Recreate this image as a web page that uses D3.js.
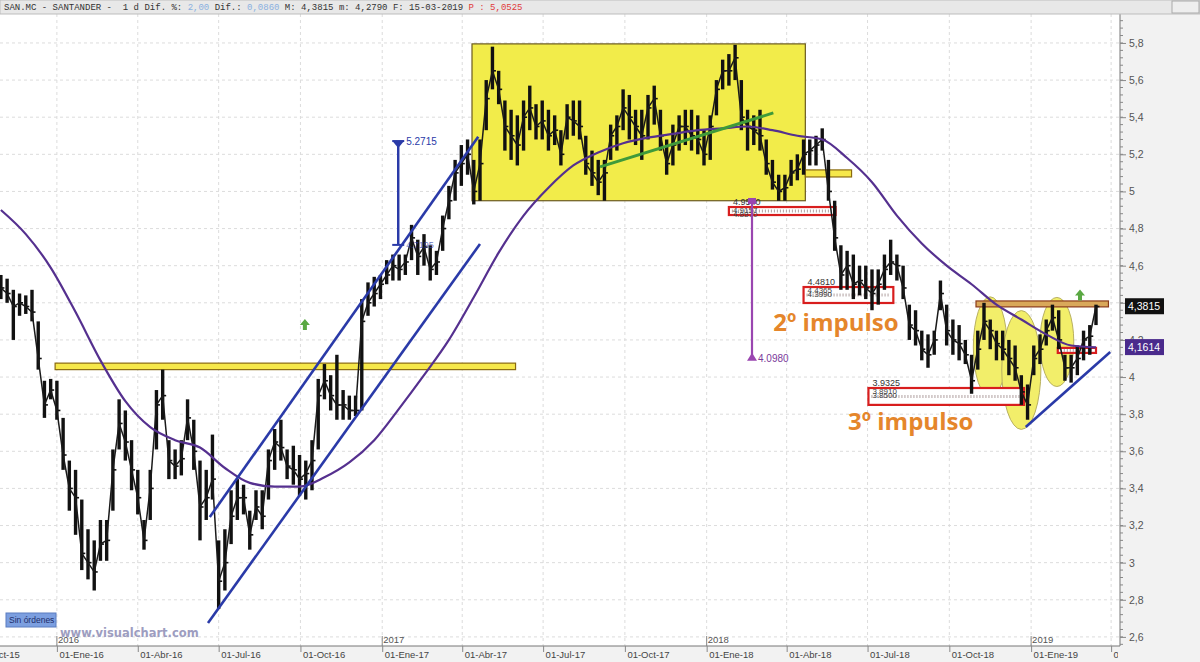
<!DOCTYPE html>
<html>
<head>
<meta charset="utf-8">
<script src="https://cdn.jsdelivr.net/npm/d3@7"></script>
<style>
  body { margin: 0; background: #fff; }
  svg { display: block; font-family: "Liberation Sans", Arial, sans-serif; }
</style>
</head>
<body>
<svg id="chart" width="1200" height="662"></svg>
<script>
// ---- datos semanales ----
const weekHigh = [
  4.55,4.53,4.47,4.45,4.44,4.47,4.30,3.98,3.99,3.98,
  3.78,3.55,3.50,3.34,3.18,3.12,3.23,3.23,3.61,3.88,
  3.82,3.66,3.50,3.23,3.50,3.93,4.04,3.66,3.61,3.66,
  3.88,3.77,3.55,3.50,3.69,3.12,3.18,3.39,3.45,3.42,
  3.28,3.39,3.39,3.61,3.72,3.77,3.61,3.63,3.58,3.55,
  3.66,3.99,4.07,4.01,4.12,3.93,3.90,3.90,4.42,4.51,
  4.54,4.55,4.63,4.66,4.66,4.66,4.82,4.74,4.77,4.71,
  4.68,4.87,5.03,5.17,5.25,5.28,5.17,5.28,5.60,5.78,
  5.65,5.49,5.44,5.41,5.49,5.57,5.47,5.49,5.44,5.41,
  5.33,5.47,5.49,5.49,5.30,5.22,5.17,5.17,5.36,5.41,
  5.55,5.52,5.44,5.44,5.52,5.57,5.44,5.28,5.36,5.41,
  5.44,5.44,5.41,5.33,5.41,5.60,5.71,5.74,5.79,5.60,
  5.44,5.41,5.44,5.28,5.17,5.09,5.09,5.17,5.20,5.28,
  5.28,5.30,5.34,5.17,4.95,4.71,4.68,4.66,4.60,4.60,
  4.58,4.58,4.66,4.74,4.66,4.60,4.39,4.36,4.25,4.23,
  4.25,4.52,4.39,4.31,4.28,4.20,4.12,4.25,4.40,4.31,
  4.25,4.25,4.20,4.17,4.01,3.96,4.17,4.23,4.31,4.39,
  4.36,4.12,4.12,4.17,4.25,4.28,4.39
];
const weekLow = [
  4.42,4.40,4.20,4.33,4.34,4.30,4.04,3.78,3.88,3.77,
  3.50,3.28,3.15,2.96,2.91,2.85,3.01,3.01,3.28,3.61,
  3.55,3.39,3.26,3.07,3.23,3.61,3.77,3.45,3.45,3.47,
  3.66,3.50,3.12,3.23,3.34,2.75,2.85,3.10,3.23,3.26,
  3.07,3.23,3.18,3.34,3.50,3.55,3.45,3.42,3.36,3.34,
  3.39,3.61,3.88,3.82,3.77,3.77,3.77,3.79,3.82,4.33,
  4.38,4.42,4.50,4.52,4.52,4.55,4.63,4.55,4.60,4.52,
  4.55,4.68,4.85,4.95,5.03,5.09,4.93,4.95,5.33,5.55,
  5.47,5.22,5.17,5.14,5.22,5.33,5.28,5.28,5.22,5.25,
  5.14,5.28,5.30,5.28,5.09,5.03,4.98,4.95,5.17,5.22,
  5.33,5.28,5.25,5.17,5.28,5.36,5.22,5.09,5.14,5.22,
  5.25,5.22,5.20,5.14,5.17,5.41,5.55,5.57,5.60,5.33,
  5.22,5.25,5.22,5.09,5.01,4.95,4.95,5.03,5.06,5.09,
  5.14,5.14,5.22,4.95,4.68,4.47,4.47,4.42,4.44,4.42,
  4.36,4.39,4.47,4.55,4.52,4.42,4.20,4.17,4.09,4.05,
  4.12,4.36,4.17,4.12,4.09,4.07,3.91,4.04,4.20,4.15,
  4.09,4.09,4.01,3.98,3.85,3.77,4.01,4.07,4.17,4.25,
  4.15,3.98,3.97,4.01,4.09,4.12,4.28
];
const weekClose = [
  4.48,4.45,4.38,4.40,4.38,4.35,4.10,3.85,3.93,3.82,
  3.58,3.40,3.35,3.05,3.00,2.95,3.10,3.12,3.50,3.75,
  3.65,3.50,3.35,3.12,3.40,3.85,3.90,3.55,3.52,3.56,
  3.78,3.60,3.30,3.35,3.45,2.90,3.00,3.25,3.35,3.35,
  3.15,3.30,3.25,3.55,3.65,3.62,3.52,3.50,3.45,3.48,
  3.55,3.90,3.98,3.90,3.85,3.85,3.82,3.82,4.30,4.40,
  4.45,4.50,4.55,4.60,4.58,4.62,4.75,4.65,4.70,4.58,
  4.62,4.80,4.95,5.10,5.15,5.20,5.00,5.15,5.50,5.65,
  5.55,5.35,5.30,5.25,5.40,5.45,5.35,5.38,5.30,5.33,
  5.20,5.40,5.38,5.35,5.15,5.10,5.05,5.10,5.30,5.35,
  5.45,5.40,5.35,5.30,5.45,5.50,5.30,5.15,5.25,5.35,
  5.35,5.30,5.28,5.20,5.35,5.55,5.65,5.65,5.72,5.40,
  5.35,5.33,5.30,5.15,5.05,5.00,5.02,5.10,5.12,5.20,
  5.22,5.25,5.28,5.00,4.75,4.55,4.60,4.50,4.52,4.48,
  4.45,4.50,4.58,4.62,4.60,4.48,4.28,4.25,4.15,4.12,
  4.20,4.45,4.25,4.20,4.18,4.12,3.98,4.15,4.30,4.25,
  4.18,4.15,4.10,4.05,3.92,3.85,4.10,4.15,4.25,4.32,
  4.20,4.05,4.05,4.10,4.20,4.22,4.38
];
// media movil, una lectura cada 4 semanas
const maValues = [
  4.90,4.77,4.59,4.35,4.09,3.87,3.73,3.66,3.62,3.51,
  3.43,3.41,3.41,3.46,3.54,3.66,3.83,4.01,4.20,4.43,
  4.67,4.87,5.02,5.14,5.21,5.26,5.29,5.31,5.33,5.34,
  5.35,5.33,5.30,5.28,5.18,5.05,4.87,4.72,4.60,4.50,
  4.39,4.31,4.23,4.17,4.16
];

const priceTicks = [2.6,2.8,3,3.2,3.4,3.6,3.8,4,4.2,4.4,4.6,4.8,5,5.2,5.4,5.6,5.8];
const quarterTicks = ["2015-10-01","2016-01-01","2016-04-01","2016-07-01","2016-10-01",
  "2017-01-01","2017-04-01","2017-07-01","2017-10-01","2018-01-01","2018-04-01",
  "2018-07-01","2018-10-01","2019-01-01","2019-04-01"];
const yearTicks = ["2016-01-01","2017-01-01","2018-01-01","2019-01-01"];
const meses = ["Ene","Feb","Mar","Abr","May","Jun","Jul","Ago","Sep","Oct","Nov","Dic"];

// zonas y figuras dibujadas sobre el grafico (fecha / precio)
const yellowBands = [
  {from:"2015-12-30", to:"2017-05-31", hi:4.075, lo:4.040},
  {from:"2018-04-22", to:"2018-06-13", hi:5.116, lo:5.078}
];
const bigBox = {from:"2017-04-12", to:"2018-04-22", hi:5.795, lo:4.950};
const redZones = [
  {from:"2018-01-26", to:"2018-05-26", hi:4.916, lo:4.873, top:"4.9540", inner:["4.9157","4.8870"]},
  {from:"2018-04-20", to:"2018-07-30", hi:4.485, lo:4.399, top:"4.4810", inner:["4.4365","4.3990"]},
  {from:"2018-07-02", to:"2018-12-24", hi:3.941, lo:3.850, top:"3.9325", inner:["3.8910","3.8500"]},
  {from:"2019-01-31", to:"2019-03-15", hi:4.157, lo:4.130, top:"", inner:[]}
];
const tanBand = {from:"2018-10-31", to:"2019-03-29", hi:4.410, lo:4.378};
const ellipses = [
  {date:"2018-11-16", price:4.162, days:19, half:0.27},
  {date:"2018-12-21", price:4.038, days:22, half:0.32},
  {date:"2019-01-30", price:4.189, days:19, half:0.24}
];
const blueLines = [
  {d1:"2016-06-21", p1:3.246, d2:"2017-04-19", p2:5.294},
  {d1:"2016-06-19", p1:2.675, d2:"2017-04-21", p2:4.717},
  {d1:"2018-12-26", p1:3.731, d2:"2019-03-31", p2:4.135}
];
const greenLine = {d1:"2017-09-03", p1:5.132, d2:"2018-03-17", p2:5.423};
const greenArrows = [{date:"2016-10-06", price:4.28}, {date:"2019-02-25", price:4.44}];
const blueMeasure = {date:"2017-01-19", top:5.2715, bottom:4.712, topLabel:"5.2715", bottomLabel:"4.7195"};
const purpleMeasure = {date:"2018-02-21", top:4.954, bottom:4.098, label:"4.0980"};
const impulsos = [
  {date:"2018-03-17", price:4.248, text:"2º impulso"},
  {date:"2018-06-09", price:3.715, text:"3º impulso"}
];
const lastPrice = {value:4.3815, text:"4,3815"};
const lastMA = {value:4.1614, text:"4,1614"};

// ---- escalas ----
const parse = d3.utcParse("%Y-%m-%d");
const weekDates = d3.utcFriday.range(parse("2015-10-30"), parse("2019-03-16"));
const maDates = weekDates.filter((d, i) => i % 4 === 0);

const plotRight = 1120, plotTop = 14, plotBottom = 646;
const x = d3.scaleUtc().domain([parse("2015-10-29"), parse("2019-04-11")]).range([0, plotRight]);
const y = d3.scaleLinear().domain([2.551, 5.956]).range([plotBottom, plotTop]);

const svg = d3.select("#chart");

// fondos
svg.append("rect").attr("x", 0).attr("y", 0).attr("width", 1200).attr("height", 662).attr("fill", "#f2f2f2");
svg.append("rect").attr("x", 0).attr("y", plotTop).attr("width", plotRight).attr("height", plotBottom - plotTop).attr("fill", "#fff");

svg.append("defs").append("clipPath").attr("id", "plotclip")
  .append("rect").attr("x", 0).attr("y", plotTop).attr("width", plotRight).attr("height", plotBottom - plotTop);
svg.select("defs").append("clipPath").attr("id", "xclip")
  .append("rect").attr("x", 0).attr("y", plotBottom).attr("width", plotRight - 2).attr("height", 20);

const g = svg.append("g").attr("clip-path", "url(#plotclip)");

// rejilla punteada
g.selectAll(".hgrid").data(priceTicks).enter().append("line")
  .attr("x1", 0).attr("x2", plotRight)
  .attr("y1", d => y(d)).attr("y2", d => y(d))
  .attr("stroke", "#dcdcdc").attr("stroke-dasharray", "3,3");
g.selectAll(".vgrid").data(quarterTicks).enter().append("line")
  .attr("x1", d => x(parse(d))).attr("x2", d => x(parse(d)))
  .attr("y1", plotTop).attr("y2", plotBottom)
  .attr("stroke", "#dcdcdc").attr("stroke-dasharray", "3,3");

// caja amarilla grande
g.append("rect")
  .attr("x", x(parse(bigBox.from))).attr("y", y(bigBox.hi))
  .attr("width", x(parse(bigBox.to)) - x(parse(bigBox.from)))
  .attr("height", y(bigBox.lo) - y(bigBox.hi))
  .attr("fill", "#f2ec4a").attr("stroke", "#6b5a20").attr("stroke-width", 1.2);

// bandas amarillas
g.selectAll(".yband").data(yellowBands).enter().append("rect")
  .attr("x", d => x(parse(d.from))).attr("y", d => y(d.hi))
  .attr("width", d => x(parse(d.to)) - x(parse(d.from)))
  .attr("height", d => y(d.lo) - y(d.hi))
  .attr("fill", "#f6e84a").attr("stroke", "#8a6a10").attr("stroke-width", 1.2);

// elipses
g.selectAll(".ell").data(ellipses).enter().append("ellipse")
  .attr("cx", d => x(parse(d.date))).attr("cy", d => y(d.price))
  .attr("rx", d => x(d3.utcDay.offset(parse(d.date), d.days)) - x(parse(d.date)))
  .attr("ry", d => y(d.price - d.half) - y(d.price))
  .attr("fill", "#f2ee6a").attr("stroke", "#b8b060").attr("stroke-width", 1);

// zonas rojas
const zones = g.selectAll(".zone").data(redZones).enter().append("g");
zones.append("rect")
  .attr("x", d => x(parse(d.from))).attr("y", d => y(d.hi))
  .attr("width", d => x(parse(d.to)) - x(parse(d.from)))
  .attr("height", d => y(d.lo) - y(d.hi))
  .attr("fill", "#fff").attr("stroke", "#d81e1e").attr("stroke-width", 2.2);
zones.append("line")
  .attr("x1", d => x(parse(d.from)) + 3).attr("x2", d => x(parse(d.to)) - 3)
  .attr("y1", d => y((d.hi + d.lo) / 2)).attr("y2", d => y((d.hi + d.lo) / 2))
  .attr("stroke", "#b0a0a0").attr("stroke-width", 3).attr("stroke-dasharray", "1,2");
zones.append("text")
  .attr("x", d => x(parse(d.from)) + 4).attr("y", d => y(d.hi) - 2)
  .attr("font-size", 9).attr("fill", "#333").text(d => d.top);
zones.each(function(d) {
  d3.select(this).selectAll("text.inner").data(d.inner).enter().append("text")
    .attr("class", "inner")
    .attr("x", x(parse(d.from)) + 4)
    .attr("y", (t, i) => y(d.hi) + 6 + i * 4)
    .attr("font-size", 8).attr("fill", "#444").text(t => t);
});

// banda ocre
g.append("rect")
  .attr("x", x(parse(tanBand.from))).attr("y", y(tanBand.hi))
  .attr("width", x(parse(tanBand.to)) - x(parse(tanBand.from)))
  .attr("height", y(tanBand.lo) - y(tanBand.hi))
  .attr("fill", "#d9a85a").attr("stroke", "#8a3a1a").attr("stroke-width", 1.2);

// precio semanal: barras maximo-minimo y linea de cierre
g.selectAll(".bar").data(weekDates).enter().append("line")
  .attr("x1", d => x(d)).attr("x2", d => x(d))
  .attr("y1", (d, i) => y(weekHigh[i])).attr("y2", (d, i) => y(weekLow[i]))
  .attr("stroke", "#111").attr("stroke-width", 3.4);
g.selectAll(".tick-close").data(weekDates).enter().append("line")
  .attr("x1", d => x(d)).attr("x2", d => x(d) + 3.5)
  .attr("y1", (d, i) => y(weekClose[i])).attr("y2", (d, i) => y(weekClose[i]))
  .attr("stroke", "#111").attr("stroke-width", 1.6);
g.append("path")
  .datum(weekDates)
  .attr("fill", "none").attr("stroke", "#1a1a1a").attr("stroke-width", 1.5)
  .attr("d", d3.line().x(d => x(d)).y((d, i) => y(weekClose[i])));

// media movil
g.append("path")
  .datum(maDates)
  .attr("fill", "none").attr("stroke", "#55308f").attr("stroke-width", 2.2)
  .attr("d", d3.line().curve(d3.curveMonotoneX).x(d => x(d)).y((d, i) => y(maValues[i])));

// lineas azules (canal y soporte)
g.selectAll(".bline").data(blueLines).enter().append("line")
  .attr("x1", d => x(parse(d.d1))).attr("y1", d => y(d.p1))
  .attr("x2", d => x(parse(d.d2))).attr("y2", d => y(d.p2))
  .attr("stroke", "#2a3aa8").attr("stroke-width", 2.6);

// linea verde
g.append("line")
  .attr("x1", x(parse(greenLine.d1))).attr("y1", y(greenLine.p1))
  .attr("x2", x(parse(greenLine.d2))).attr("y2", y(greenLine.p2))
  .attr("stroke", "#3f9a3a").attr("stroke-width", 3);

// medida azul
const bx = x(parse(blueMeasure.date));
g.append("line").attr("x1", bx).attr("x2", bx)
  .attr("y1", y(blueMeasure.top)).attr("y2", y(blueMeasure.bottom))
  .attr("stroke", "#2a3aa8").attr("stroke-width", 2.5);
g.append("line").attr("x1", bx - 6).attr("x2", bx + 6)
  .attr("y1", y(blueMeasure.top)).attr("y2", y(blueMeasure.top))
  .attr("stroke", "#2a3aa8").attr("stroke-width", 2);
g.append("path")
  .attr("d", `M${bx - 5},${y(blueMeasure.top) + 1}L${bx + 5},${y(blueMeasure.top) + 1}L${bx},${y(blueMeasure.top) + 7}Z`)
  .attr("fill", "#2a3aa8");
g.append("line").attr("x1", bx - 6).attr("x2", bx + 6)
  .attr("y1", y(blueMeasure.bottom)).attr("y2", y(blueMeasure.bottom))
  .attr("stroke", "#2a3aa8").attr("stroke-width", 2);
g.append("text").attr("x", bx + 8).attr("y", y(blueMeasure.top) + 4)
  .attr("font-size", 10).attr("fill", "#2a3aa8").text(blueMeasure.topLabel);
g.append("text").attr("x", bx + 8).attr("y", y(blueMeasure.bottom) + 3)
  .attr("font-size", 9).attr("fill", "#2a3aa8").attr("opacity", 0.7).text(blueMeasure.bottomLabel);

// medida morada
const px = x(parse(purpleMeasure.date));
g.append("line").attr("x1", px).attr("x2", px)
  .attr("y1", y(purpleMeasure.top)).attr("y2", y(purpleMeasure.bottom))
  .attr("stroke", "#9a46b0").attr("stroke-width", 2.2);
g.append("rect").attr("x", px - 4).attr("y", y(purpleMeasure.top) - 2).attr("width", 8).attr("height", 6)
  .attr("fill", "#9a46b0");
g.append("path")
  .attr("d", `M${px - 5},${y(purpleMeasure.bottom) + 2}L${px + 5},${y(purpleMeasure.bottom) + 2}L${px},${y(purpleMeasure.bottom) - 6}Z`)
  .attr("fill", "#9a46b0");
g.append("text").attr("x", px + 6).attr("y", y(purpleMeasure.bottom) + 3)
  .attr("font-size", 10).attr("fill", "#7a3a9a").text(purpleMeasure.label);

// flechas verdes
g.selectAll(".arrow").data(greenArrows).enter().append("path")
  .attr("transform", d => `translate(${x(parse(d.date))},${y(d.price)})`)
  .attr("d", "M0,-6L5,0L2,0L2,5L-2,5L-2,0L-5,0Z")
  .attr("fill", "#5aa843");

// textos de impulsos
g.selectAll(".imp").data(impulsos).enter().append("text")
  .attr("x", d => x(parse(d.date))).attr("y", d => y(d.price))
  .attr("font-family", "'Open Sans', sans-serif").attr("font-weight", 700)
  .attr("font-size", 24).attr("fill", "#e5862b").text(d => d.text);

// ---- ejes ----
// eje de precios (derecha)
svg.append("line").attr("x1", plotRight).attr("x2", plotRight).attr("y1", plotTop).attr("y2", plotBottom)
  .attr("stroke", "#777");
const minorTicks = d3.range(64, 149).map(k => k * 0.04).filter(v => y(v) > plotTop && y(v) < plotBottom);
svg.selectAll(".minor").data(minorTicks).enter().append("line")
  .attr("x1", plotRight).attr("x2", plotRight + 3)
  .attr("y1", d => y(d)).attr("y2", d => y(d)).attr("stroke", "#888");
const yAxis = svg.append("g").attr("transform", `translate(${plotRight},0)`)
  .call(d3.axisRight(y).tickValues(priceTicks).tickSize(6).tickPadding(3)
    .tickFormat(d => String(d).replace(".", ",")));
yAxis.select(".domain").remove();
yAxis.selectAll("line").attr("stroke", "#888");
yAxis.selectAll("text").attr("font-size", 10.5).attr("fill", "#555")
  .attr("font-family", "'Liberation Sans', Arial, sans-serif");

// eje temporal
svg.append("line").attr("x1", 0).attr("x2", plotRight).attr("y1", plotBottom).attr("y2", plotBottom)
  .attr("stroke", "#777");
const xAxis = svg.append("g").attr("clip-path", "url(#xclip)")
  .append("g").attr("transform", `translate(0,${plotBottom})`)
  .call(d3.axisBottom(x).tickValues(quarterTicks.map(parse)).tickSize(6)
    .tickFormat(d => "01-" + meses[d.getUTCMonth()] + "-" + d3.utcFormat("%y")(d)));
xAxis.select(".domain").remove();
xAxis.selectAll("line").attr("stroke", "#888");
xAxis.selectAll("text").attr("text-anchor", "start").attr("dx", 2).attr("dy", "0.3em")
  .attr("font-size", 9.5).attr("fill", "#444")
  .attr("font-family", "'Liberation Sans', Arial, sans-serif");

// años sobre el eje
const years = svg.append("g");
years.selectAll("line").data(yearTicks).enter().append("line")
  .attr("x1", d => x(parse(d))).attr("x2", d => x(parse(d)))
  .attr("y1", plotBottom - 10).attr("y2", plotBottom).attr("stroke", "#888");
years.selectAll("text").data(yearTicks).enter().append("text")
  .attr("x", d => x(parse(d)) + 1).attr("y", plotBottom - 3)
  .attr("font-size", 9.5).attr("fill", "#555").text(d => d.slice(0, 4));

// etiquetas de ultimo precio
const tags = [{v:lastPrice, fill:"#111"}, {v:lastMA, fill:"#4a2a8c"}];
tags.forEach(t => {
  svg.append("rect").attr("x", plotRight + 5).attr("y", y(t.v.value) - 8)
    .attr("width", 39).attr("height", 16).attr("fill", t.fill);
  svg.append("text").attr("x", plotRight + 8).attr("y", y(t.v.value) + 4)
    .attr("font-size", 10.5).attr("fill", "#fff").text(t.v.text);
});

// cabecera
svg.append("rect").attr("x", 0).attr("y", 0).attr("width", 1200).attr("height", plotTop)
  .attr("fill", "#e8e8e8").attr("stroke", "#bdbdbd");
svg.append("rect").attr("x", 1172).attr("y", 1).attr("width", 27).attr("height", 12)
  .attr("fill", "#eee").attr("stroke", "#aaa");
const header = svg.append("text").attr("x", 4).attr("y", 10)
  .attr("font-family", "'Liberation Mono', monospace").attr("font-size", 9).attr("fill", "#333");
const headerParts = [
  ["SAN.MC - SANTANDER -  1 d Dif. %: ", "#333"], ["2,00", "#8ab0e0"], [" Dif.: ", "#333"],
  ["0,0860", "#8ab0e0"], [" M: 4,3815 m: 4,2790 F: 15-03-2019 ", "#333"], ["P : 5,0525", "#e03a3a"]
];
headerParts.forEach(p => header.append("tspan").attr("fill", p[1]).attr("xml:space", "preserve").text(p[0]));
header.attr("style", "white-space:pre");

// marcas de la plataforma
svg.append("rect").attr("x", 6).attr("y", 613).attr("width", 50).attr("height", 14)
  .attr("fill", "#7c9fe0").attr("stroke", "#5a7cc0");
svg.append("text").attr("x", 9).attr("y", 623).attr("font-size", 8.5).attr("fill", "#1e2e6a").text("Sin órdenes");
svg.append("text").attr("x", 60).attr("y", 637)
  .attr("font-family", "'DejaVu Sans', sans-serif").attr("font-weight", 700)
  .attr("font-size", 11.5).attr("fill", "#9d9dc0").text("www.visualchart.com");
</script>
</body>
</html>
